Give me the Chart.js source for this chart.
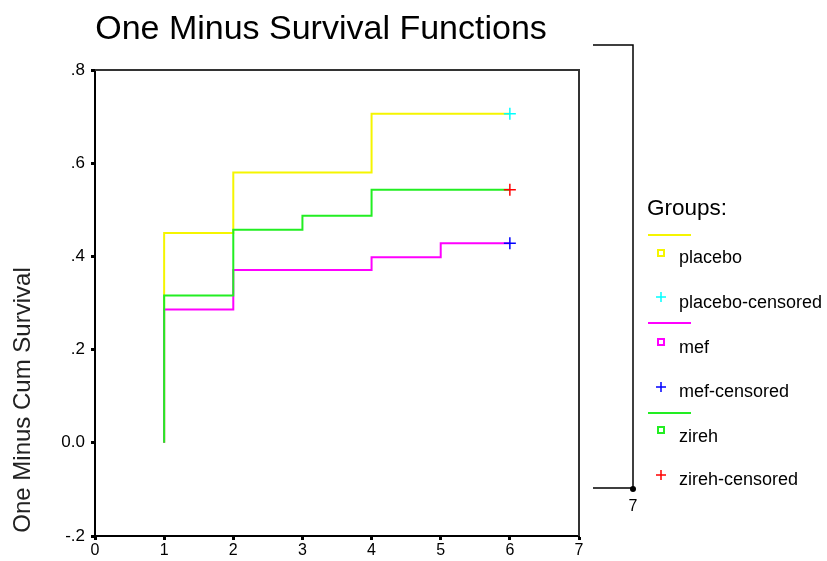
<!DOCTYPE html>
<html>
<head>
<meta charset="utf-8">
<script src="https://cdn.jsdelivr.net/npm/chart.js@4.4.0/dist/chart.umd.min.js"></script>
<style>
html,body{margin:0;padding:0;background:#fff;}
#wrap{width:827px;height:561px;position:relative;}
</style>
</head>
<body>
<div id="wrap"><canvas id="c" width="827" height="561"></canvas></div>
<script>
// ---- data ----
const placeboX = [1, 1, 2, 4, 6];
const placeboY = [0, 0.45, 0.58, 0.706, 0.706];
const mefX = [1, 1, 2, 4, 5, 6];
const mefY = [0, 0.286, 0.371, 0.398, 0.428, 0.428];
const zirehX = [1, 1, 2, 3, 4, 6];
const zirehY = [0, 0.316, 0.457, 0.487, 0.543, 0.543];
const censorX = [6, 6, 6];
const censorY = [0.706, 0.428, 0.543];
const yTickValues = [-0.2, 0, 0.2, 0.4, 0.6, 0.8];
const yTickLabels = ['-.2', '0.0', '.2', '.4', '.6', '.8'];
const xTickLabels = ['0', '1', '2', '3', '4', '5', '6', '7'];
const groupNames = ['placebo', 'placebo-censored', 'mef', 'mef-censored', 'zireh', 'zireh-censored'];

const FONT = '"Liberation Sans", Arial, sans-serif';
const zip = (xs, ys) => xs.map((x, i) => ({x: x, y: ys[i]}));

const decor = {
  id: 'decor',
  afterDraw(chart) {
    const ctx = chart.ctx;
    const a = chart.chartArea;
    ctx.save();
    // frame top/right
    ctx.strokeStyle = '#333';
    ctx.lineWidth = 2;
    ctx.beginPath();
    ctx.moveTo(a.left, a.top);
    ctx.lineTo(a.right, a.top);
    ctx.lineTo(a.right, a.bottom);
    ctx.stroke();
    // title
    ctx.fillStyle = '#000';
    ctx.font = '34px ' + FONT;
    ctx.textAlign = 'center';
    ctx.textBaseline = 'middle';
    ctx.fillText('One Minus Survival Functions', 321, 30);
    // y axis title
    ctx.save();
    ctx.translate(23, 400);
    ctx.rotate(-Math.PI / 2);
    ctx.font = '24px ' + FONT;
    ctx.fillStyle = '#222';
    ctx.fillText('One Minus Cum Survival', 0, 0);
    ctx.restore();
    // bracket
    ctx.strokeStyle = '#000';
    ctx.lineWidth = 1.5;
    ctx.beginPath();
    ctx.moveTo(593, 45);
    ctx.lineTo(633, 45);
    ctx.lineTo(633, 488);
    ctx.lineTo(593, 488);
    ctx.stroke();
    ctx.beginPath();
    ctx.arc(633, 489, 3, 0, Math.PI * 2);
    ctx.fill();
    ctx.font = '16px ' + FONT;
    ctx.fillText('7', 633, 507);
    // legend
    ctx.textAlign = 'left';
    ctx.font = '22.5px ' + FONT;
    ctx.fillText('Groups:', 647, 209);
    const colors = ['#f5f500', '#00ffff', '#ff00ff', '#0000ff', '#22ee22', '#ff0000'];
    const lineY = [235, 323, 413];
    const symY = [253, 297, 342, 387, 430, 475];
    const textY = [258, 303, 348, 392, 437, 480];
    ctx.lineWidth = 2;
    for (let g = 0; g < 3; g++) {
      ctx.strokeStyle = colors[g * 2];
      ctx.beginPath();
      ctx.moveTo(648, lineY[g]);
      ctx.lineTo(691, lineY[g]);
      ctx.stroke();
    }
    ctx.font = '18px ' + FONT;
    for (let i = 0; i < 6; i++) {
      ctx.strokeStyle = colors[i];
      ctx.lineWidth = 2;
      if (i % 2 === 0) {
        ctx.strokeRect(658, symY[i] - 3, 6, 6);
      } else {
        ctx.lineWidth = 1.5;
        ctx.beginPath();
        ctx.moveTo(656, symY[i]); ctx.lineTo(666, symY[i]);
        ctx.moveTo(661, symY[i] - 5); ctx.lineTo(661, symY[i] + 5);
        ctx.stroke();
      }
      ctx.fillStyle = '#000';
      ctx.fillText(groupNames[i], 679, textY[i]);
    }
    ctx.restore();
  }
};

const lineDs = (label, data, color, order) => ({
  type: 'line', label, data, borderColor: color, borderWidth: 2,
  stepped: 'before', pointRadius: 0, fill: false, order
});
const censorDs = (label, i, color) => ({
  type: 'scatter', label, data: [{x: censorX[i], y: censorY[i]}],
  pointStyle: 'cross', pointRadius: 6, borderColor: color, borderWidth: 1.5,
  backgroundColor: color, order: 0
});

new Chart(document.getElementById('c'), {
  type: 'line',
  data: {
    datasets: [
      lineDs('placebo', zip(placeboX, placeboY), '#f5f500', 3),
      lineDs('mef', zip(mefX, mefY), '#ff00ff', 2),
      lineDs('zireh', zip(zirehX, zirehY), '#22ee22', 1),
      censorDs('placebo-censored', 0, '#00ffff'),
      censorDs('mef-censored', 1, '#0000ff'),
      censorDs('zireh-censored', 2, '#ff0000')
    ]
  },
  options: {
    responsive: false,
    animation: false,
    layout: {padding: {top: 70, right: 248, left: 0, bottom: 0}},
    plugins: {legend: {display: false}, tooltip: {enabled: false}, title: {display: false}},
    scales: {
      x: {
        type: 'linear', min: 0, max: 7,
        ticks: {stepSize: 1, color: '#000', font: {family: FONT, size: 16}, padding: 1, maxRotation: 0,
                callback: (v) => xTickLabels[Math.round(v)]},
        grid: {drawOnChartArea: false, drawTicks: true, tickLength: 4, tickWidth: 3, tickColor: '#000'},
        border: {display: true, color: '#000', width: 2},
        afterFit: (s) => { s.height = 25; }
      },
      y: {
        type: 'linear', min: -0.2, max: 0.8,
        afterBuildTicks: (s) => { s.ticks = yTickValues.map(v => ({value: v})); },
        ticks: {color: '#000', font: {family: FONT, size: 17}, padding: 6,
                callback: (v) => { const i = yTickValues.findIndex(t => Math.abs(t - v) < 1e-6); return i >= 0 ? yTickLabels[i] : ''; }},
        grid: {drawOnChartArea: false, drawTicks: true, tickLength: 4, tickWidth: 3, tickColor: '#000'},
        border: {display: true, color: '#000', width: 2},
        afterFit: (s) => { s.width = 95; }
      }
    }
  },
  plugins: [decor]
});
</script>
</body>
</html>
